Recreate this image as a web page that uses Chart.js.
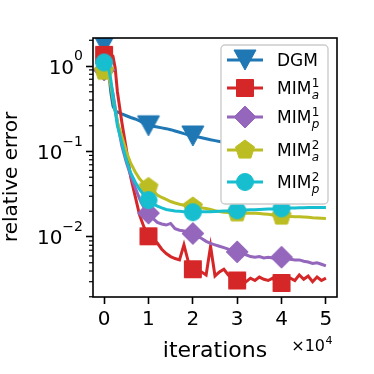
<!DOCTYPE html>
<html>
<head>
<meta charset="utf-8">
<script src="https://cdn.jsdelivr.net/npm/chart.js@4.4.1/dist/chart.umd.min.js"></script>
<style>
  html, body { margin: 0; padding: 0; background: #fff; }
  canvas { display: block; }
</style>
</head>
<body>
<canvas id="chart" width="374" height="374"></canvas>
<script>
// iterations in units of 1e4
const iterations = [0, 0.05, 0.1, 0.15, 0.2, 0.25, 0.3, 0.4, 0.5, 0.6, 0.7, 0.8, 0.9,
  1.0, 1.1, 1.2, 1.3, 1.4, 1.5, 1.6, 1.7, 1.8, 1.9,
  2.0, 2.1, 2.2, 2.3, 2.4, 2.5, 2.6, 2.7, 2.8, 2.9,
  3.0, 3.1, 3.2, 3.3, 3.4, 3.5, 3.6, 3.7, 3.8, 3.9,
  4.0, 4.1, 4.2, 4.3, 4.4, 4.5, 4.6, 4.7, 4.8, 4.9,
  5.0];

const dgm = [1.8, 1.5, 0.9, 0.5, 0.34, 0.3, 0.29, 0.275, 0.262, 0.25, 0.24, 0.228, 0.215,
  0.2, 0.197, 0.193, 0.189, 0.185, 0.18, 0.174, 0.168, 0.162, 0.157,
  0.152, 0.149, 0.145, 0.141, 0.137, 0.134, 0.131, 0.128, 0.126, 0.124,
  0.122, 0.12, 0.118, 0.117, 0.115, 0.113, 0.112, 0.11, 0.109, 0.108,
  0.106, 0.105, 0.104, 0.103, 0.102, 0.101, 0.1, 0.099, 0.098, 0.097,
  0.096];

const mimA1 = [1.35, 1.4, 1.4, 1.38, 1.3, 0.95, 0.5, 0.22, 0.107, 0.05, 0.03, 0.018, 0.013,
  0.0102, 0.0094, 0.0085, 0.0072, 0.0064, 0.0059, 0.0056, 0.0054, 0.0081, 0.0051,
  0.0042, 0.0041, 0.0039, 0.0036, 0.0078, 0.0035, 0.0039, 0.0042, 0.0036, 0.0032,
  0.0031, 0.0032, 0.003, 0.0033, 0.0031, 0.0034, 0.0032, 0.0031, 0.0033, 0.0029,
  0.0029, 0.0031, 0.0033, 0.0031, 0.0036, 0.0032, 0.0035, 0.003, 0.0034, 0.0031,
  0.0033];

const mimP1 = [0.9, 0.88, 0.75, 0.62, 0.48, 0.33, 0.22, 0.116, 0.075, 0.052, 0.038, 0.028, 0.022,
  0.019, 0.0165, 0.0148, 0.0142, 0.0138, 0.0144, 0.0125, 0.012, 0.0118, 0.0113,
  0.011, 0.0102, 0.0096, 0.0089, 0.0084, 0.0081, 0.0078, 0.0075, 0.0072, 0.0069,
  0.0067, 0.0065, 0.0062, 0.0059, 0.0058, 0.0059, 0.0057, 0.0058, 0.0057, 0.0058,
  0.0058, 0.0056, 0.0055, 0.0054, 0.0054, 0.0052, 0.0051, 0.0049, 0.005, 0.0048,
  0.0046];

const mimA2 = [0.87, 0.86, 0.78, 0.6, 0.42, 0.3, 0.22, 0.15, 0.1, 0.073, 0.058, 0.048, 0.042,
  0.038, 0.035, 0.031, 0.029, 0.0275, 0.026, 0.025, 0.0242, 0.0235, 0.023,
  0.0225, 0.0221, 0.0218, 0.0215, 0.021, 0.0203, 0.0198, 0.0195, 0.0193, 0.0192,
  0.0192, 0.0191, 0.019, 0.019, 0.0189, 0.0188, 0.0186, 0.0184, 0.0181, 0.0178,
  0.0176, 0.0175, 0.0174, 0.0173, 0.0172, 0.0171, 0.017, 0.0168, 0.0167, 0.0166,
  0.0165];

const mimP2 = [1.1, 1.08, 0.95, 0.7, 0.45, 0.3, 0.2, 0.126, 0.08, 0.056, 0.044, 0.036, 0.031,
  0.027, 0.0245, 0.023, 0.0219, 0.021, 0.0206, 0.0202, 0.02, 0.0198, 0.0196,
  0.0195, 0.0196, 0.0197, 0.0198, 0.0198, 0.0199, 0.02, 0.0201, 0.0202, 0.0203,
  0.0205, 0.0206, 0.0207, 0.0208, 0.0209, 0.021, 0.0211, 0.0212, 0.0213, 0.0214,
  0.0216, 0.0217, 0.0218, 0.0219, 0.022, 0.022, 0.0221, 0.0221, 0.0222, 0.0222,
  0.0222];

const markerAt = [0, 1, 2, 3, 4];
const xTicks = [0, 1, 2, 3, 4, 5];
const yTicks = [0.01, 0.1, 1];
const yTickExp = ['−2', '−1', '0'];

const nameBase = ['DGM', 'MIM', 'MIM', 'MIM', 'MIM'];
const nameSup = ['', '1', '1', '2', '2'];
const nameSub = ['', 'a', 'p', 'a', 'p'];
const colors = ['#1f77b4', '#d62728', '#9467bd', '#bcbd22', '#17becf'];
const shapes = ['tri', 'square', 'diamond', 'pentagon', 'circle'];

// marker sprites, used for the points and for the legend
function makeMarker(shape, color) {
  const c = document.createElement('canvas');
  c.width = 30; c.height = 30;
  const g = c.getContext('2d');
  const cx = 15, cy = 15;
  g.fillStyle = color; g.strokeStyle = color; g.lineWidth = 1;
  g.beginPath();
  if (shape === 'tri') {
    g.moveTo(cx - 11, cy - 10); g.lineTo(cx + 11, cy - 10); g.lineTo(cx, cy + 10);
  } else if (shape === 'square') {
    g.rect(cx - 8.5, cy - 8.5, 17, 17);
  } else if (shape === 'diamond') {
    g.moveTo(cx, cy - 11); g.lineTo(cx + 11, cy); g.lineTo(cx, cy + 11); g.lineTo(cx - 11, cy);
  } else if (shape === 'pentagon') {
    for (let i = 0; i < 5; i++) {
      const a = -Math.PI / 2 + i * 2 * Math.PI / 5;
      const px = cx + 10 * Math.cos(a), py = cy + 10 * Math.sin(a);
      if (i === 0) g.moveTo(px, py); else g.lineTo(px, py);
    }
  } else {
    g.arc(cx, cy, 8.5, 0, Math.PI * 2);
  }
  g.closePath();
  g.fill(); g.stroke();
  return c;
}
const markerImgs = shapes.map((s, k) => makeMarker(s, colors[k]));

const series = [dgm, mimA1, mimP1, mimA2, mimP2];

const frame = {
  id: 'frame',
  afterDraw(chart) {
    const ctx = chart.ctx;
    const a = chart.chartArea;
    const y = chart.scales.y;
    ctx.save();
    // minor log ticks
    ctx.strokeStyle = '#000';
    ctx.lineWidth = 1.2;
    for (let e = -3; e <= 0; e++) {
      for (let m = 2; m <= 9; m++) {
        const v = m * Math.pow(10, e);
        if (v < y.min || v > y.max) continue;
        const py = y.getPixelForValue(v);
        ctx.beginPath(); ctx.moveTo(a.left - 4, py); ctx.lineTo(a.left, py); ctx.stroke();
      }
    }
    // axes box
    ctx.lineWidth = 1.6;
    ctx.strokeRect(a.left, a.top, a.right - a.left, a.bottom - a.top);

    ctx.fillStyle = '#000';
    ctx.textBaseline = 'alphabetic';
    // y tick labels as 10^n
    yTicks.forEach((v, i) => {
      const py = y.getPixelForValue(v);
      ctx.font = '14px "DejaVu Sans"';
      const sw = ctx.measureText(yTickExp[i]).width;
      ctx.textAlign = 'left';
      ctx.fillText(yTickExp[i], 83 - sw, py - 6);
      ctx.font = '20px "DejaVu Sans"';
      ctx.textAlign = 'right';
      ctx.fillText('10', 83 - sw, py + 7.5);
    });

    // y axis title
    ctx.save();
    ctx.translate(12, 177);
    ctx.rotate(-Math.PI / 2);
    ctx.font = '20px "DejaVu Sans"';
    ctx.textAlign = 'center';
    ctx.textBaseline = 'middle';
    ctx.fillText('relative error', 0, 0);
    ctx.restore();

    // offset text
    ctx.font = '16px "DejaVu Sans"';
    ctx.textAlign = 'right';
    ctx.fillText('×10', 325, 351);
    ctx.font = '11px "DejaVu Sans"';
    ctx.textAlign = 'left';
    ctx.fillText('4', 325.5, 344);

    // legend
    const lx = 221, ly = 45, lw = 107, lh = 159, r = 4;
    ctx.beginPath();
    ctx.moveTo(lx + r, ly);
    ctx.arcTo(lx + lw, ly, lx + lw, ly + lh, r);
    ctx.arcTo(lx + lw, ly + lh, lx, ly + lh, r);
    ctx.arcTo(lx, ly + lh, lx, ly, r);
    ctx.arcTo(lx, ly, lx + lw, ly, r);
    ctx.closePath();
    ctx.fillStyle = '#fff';
    ctx.fill();
    ctx.strokeStyle = '#cccccc';
    ctx.lineWidth = 1.4;
    ctx.stroke();

    const rows = [60, 88, 117, 150, 182];
    rows.forEach((ry, k) => {
      ctx.strokeStyle = colors[k];
      ctx.lineWidth = 3;
      ctx.beginPath(); ctx.moveTo(227, ry); ctx.lineTo(263, ry); ctx.stroke();
      const img = markerImgs[k];
      ctx.drawImage(img, 245 - img.width / 2, ry - img.height / 2);
      ctx.fillStyle = '#000';
      ctx.textAlign = 'left';
      ctx.font = '17px "DejaVu Sans"';
      ctx.fillText(nameBase[k], 277, ry + 6);
      if (nameSup[k]) {
        const w = ctx.measureText(nameBase[k]).width;
        ctx.font = '12px "DejaVu Sans"';
        ctx.fillText(nameSup[k], 277 + w + 0.5, ry - 1);
        ctx.font = 'italic 12px "DejaVu Sans"';
        ctx.fillText(nameSub[k], 277 + w + 0.5, ry + 10.5);
      }
    });
    ctx.restore();
  }
};

Chart.defaults.font.family = 'DejaVu Sans';
Chart.defaults.font.size = 20;
Chart.defaults.color = '#000';

new Chart(document.getElementById('chart'), {
  type: 'line',
  data: {
    datasets: series.map((vals, k) => ({
      label: nameBase[k] + nameSup[k] + nameSub[k],
      data: vals.map((v, i) => ({ x: iterations[i], y: v })),
      borderColor: colors[k],
      backgroundColor: colors[k],
      borderWidth: 3,
      tension: 0,
      clip: 0,
      order: series.length - k,
      pointStyle: markerImgs[k],
      pointRadius: c => markerAt.includes(iterations[c.dataIndex]) ? 10 : 0,
      pointHoverRadius: 0
    }))
  },
  options: {
    responsive: false,
    animation: false,
    devicePixelRatio: 1,
    events: [],
    layout: { padding: { left: 0, top: 38, right: 37, bottom: 0 } },
    plugins: { legend: { display: false }, tooltip: { enabled: false } },
    scales: {
      x: {
        type: 'linear',
        min: -0.25,
        max: 5.25,
        afterBuildTicks: s => { s.ticks = xTicks.map(v => ({ value: v })); },
        afterFit: s => { s.height = 77; },
        ticks: { padding: 4, maxRotation: 0, callback: v => String(v) },
        grid: { drawOnChartArea: false, tickLength: 7, tickWidth: 1.6, tickColor: '#000' },
        border: { display: false },
        title: { display: true, text: 'iterations', font: { size: 22 }, padding: { top: 0, bottom: 10 } }
      },
      y: {
        type: 'logarithmic',
        min: 0.001987,
        max: 2.126,
        afterBuildTicks: s => { s.ticks = yTicks.map(v => ({ value: v })); },
        afterFit: s => { s.width = 93; },
        ticks: { padding: 3, callback: () => '' },
        grid: { drawOnChartArea: false, tickLength: 7, tickWidth: 1.6, tickColor: '#000' },
        border: { display: false },
        title: { display: false }
      }
    }
  },
  plugins: [frame]
});
</script>
</body>
</html>
